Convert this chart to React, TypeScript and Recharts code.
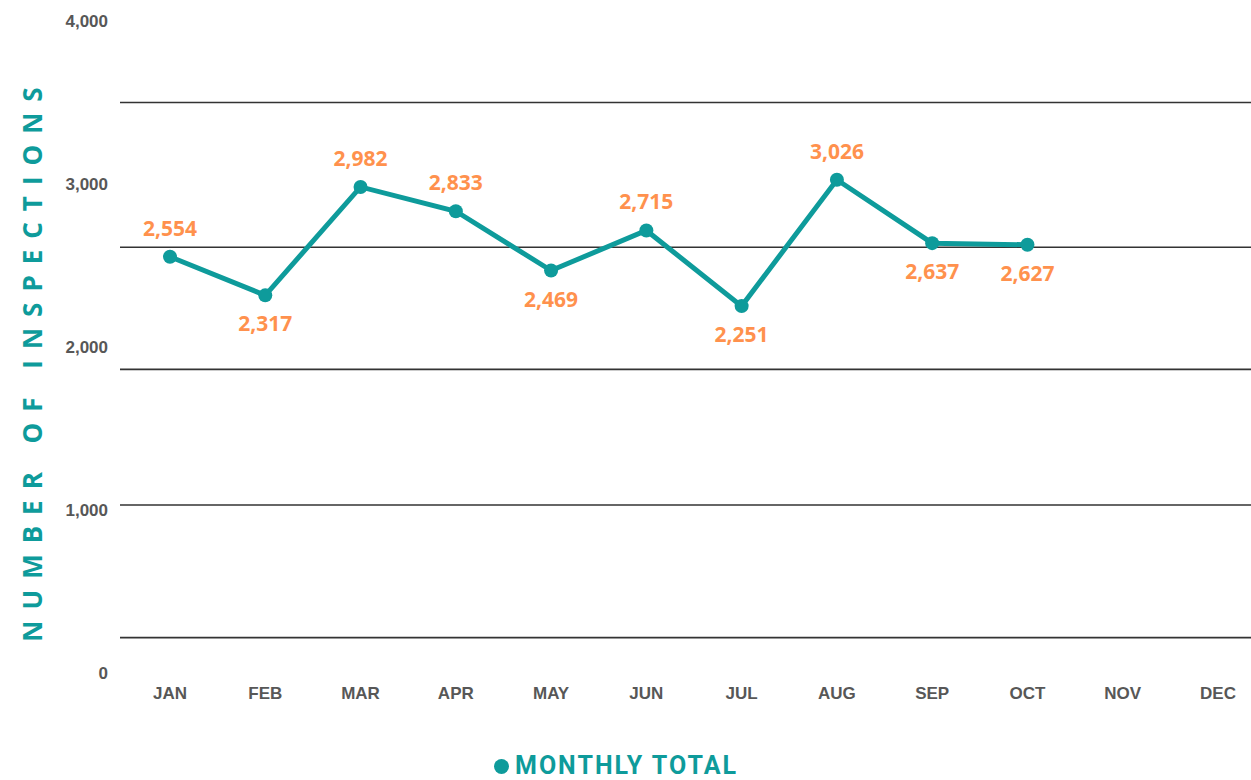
import React from "react";
import { LineChart, Line, XAxis, YAxis, ReferenceLine, LabelList } from "recharts";

const months = ["JAN", "FEB", "MAR", "APR", "MAY", "JUN", "JUL", "AUG", "SEP", "OCT", "NOV", "DEC"];
const monthlyTotals = [2554, 2317, 2982, 2833, 2469, 2715, 2251, 3026, 2637, 2627, null, null];
const yTicks = [0, 1000, 2000, 3000, 4000];
// horizontal rules drawn across the plot (not aligned with the ticks in the original)
const guideLines = [3500, 2612, 1863, 1031, 217];
// which value labels sit under the point
const labelBelow = [false, true, false, false, true, false, true, false, true, true, false, false];

const TEAL = "#0e9b9b";
const ORANGE = "#ff914d";
const GREY = "#575757";

const data = months.map((month, i) => ({ month, total: monthlyTotals[i] }));

const fmt = (v: number) => v.toLocaleString("en-US");

function ValueLabel(props: any) {
  const { x, y, value } = props;
  if (value == null) return null;
  const i = props.index ?? monthlyTotals.indexOf(value);
  const below = labelBelow[i];
  return (
    <text
      x={x}
      y={below ? y + 28 : y - 29}
      textAnchor="middle"
      dominantBaseline="central"
      fill={ORANGE}
      fontFamily="'Open Sans', sans-serif"
      fontWeight={700}
      fontSize={21}
    >
      {fmt(value)}
    </text>
  );
}

function AxisTitle() {
  return (
    <text
      x={32}
      y={359}
      transform="rotate(-90 32 359)"
      textAnchor="middle"
      dominantBaseline="central"
      fill={TEAL}
      fontFamily="'Open Sans', sans-serif"
      fontWeight={700}
      fontSize={26}
      letterSpacing={11}
    >
      NUMBER OF INSPECTIONS
    </text>
  );
}

const tickStyle = {
  fill: GREY,
  fontSize: 17,
  fontWeight: 700,
  fontFamily: "'Liberation Sans', Arial, sans-serif",
};

export default function App() {
  return (
    <div style={{ position: "absolute", left: 0, top: 0, width: 1251, height: 780, background: "#fff", overflow: "hidden" }}>
      <LineChart width={1251} height={780} data={data} margin={{ top: 21, right: 0, bottom: 77, left: 0 }}>
        <XAxis
          dataKey="month"
          axisLine={false}
          tickLine={false}
          tickSize={0}
          tickMargin={14}
          height={30}
          padding={{ left: 50, right: 33 }}
          tick={tickStyle}
          interval={0}
        />
        <YAxis
          width={120}
          domain={[0, 4000]}
          ticks={yTicks}
          tickFormatter={fmt}
          axisLine={false}
          tickLine={false}
          tickSize={0}
          tickMargin={12}
          tick={tickStyle}
          label={<AxisTitle />}
        />
        {guideLines.map((v) => (
          <ReferenceLine key={v} y={v} stroke="#333" strokeWidth={1.6} />
        ))}
        <Line
          type="linear"
          dataKey="total"
          stroke={TEAL}
          strokeWidth={5}
          dot={{ r: 7, fill: TEAL, stroke: TEAL, strokeWidth: 0 }}
          activeDot={false}
          isAnimationActive={false}
        >
          <LabelList dataKey="total" content={<ValueLabel />} />
        </Line>
      </LineChart>
      <div
        style={{
          position: "absolute",
          left: 494,
          top: 756,
          display: "flex",
          alignItems: "center",
          gap: 6,
        }}
      >
        <span
          style={{
            width: 15,
            height: 15,
            borderRadius: "50%",
            background: TEAL,
            display: "inline-block",
          }}
        />
        <span
          style={{
            color: TEAL,
            fontFamily: "Roboto, sans-serif",
            fontWeight: 700,
            fontSize: 25,
            letterSpacing: 2,
            lineHeight: "20px",
          }}
        >
          MONTHLY TOTAL
        </span>
      </div>
    </div>
  );
}
